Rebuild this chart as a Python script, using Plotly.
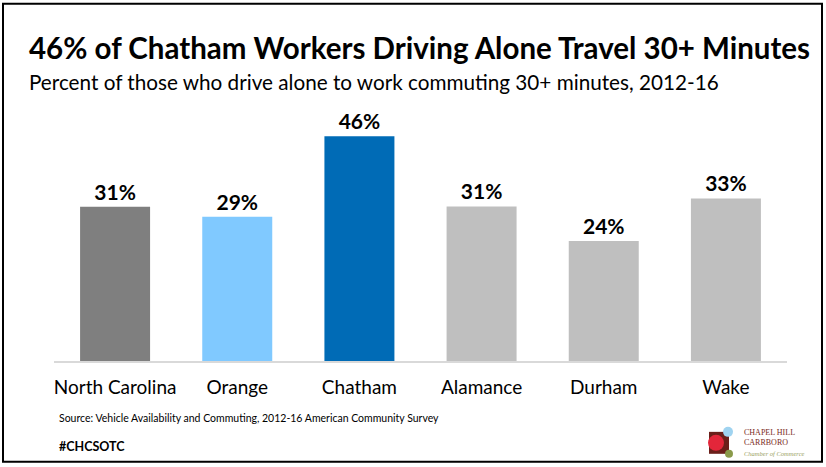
import plotly.graph_objects as go

categories = ["North Carolina", "Orange", "Chatham", "Alamance", "Durham", "Wake"]
values = [31.2, 29.2, 45.5, 31.3, 24.3, 32.9]
value_labels = ["31%", "29%", "46%", "31%", "24%", "33%"]
bar_colors = ["#7F7F7F", "#80C9FF", "#006BB6", "#BFBFBF", "#BFBFBF", "#BFBFBF"]

title_text = "46% of Chatham Workers Driving Alone Travel 30+ Minutes"
subtitle_text = "Percent of those who drive alone to work commuting 30+ minutes, 2012-16"
source_text = "Source: Vehicle Availability and Commuting, 2012-16 American Community Survey"
hashtag_text = "#CHCSOTC"
logo_lines = ["CHAPEL HILL", "CARRBORO", "Chamber of Commerce"]

W, H = 826, 467
L, R, T, B = 54, 787, 113.5, 361

def px(x):
    return (x - L) / (R - L)

def py(y):
    return (B - y) / (B - T)

FONT = "Lato"

fig = go.Figure()
fig.add_trace(go.Bar(
    x=categories, y=values, marker=dict(color=bar_colors, line=dict(width=0)),
    text=value_labels, textposition="outside", cliponaxis=False,
    textfont=dict(family=FONT, size=21, color="#000000", weight="bold"),
    hoverinfo="skip",
))

shapes = [
    dict(type="rect", xref="paper", yref="paper", x0=px(3), x1=px(822), y0=py(3), y1=py(462),
         line=dict(color="#000000", width=2), fillcolor="rgba(0,0,0,0)", layer="above"),
    # logo
    dict(type="rect", xref="paper", yref="paper", x0=px(709), x1=px(729), y0=py(432), y1=py(454),
         line=dict(width=0), fillcolor="#6B1F1A"),
    dict(type="circle", xref="paper", yref="paper", x0=px(723), x1=px(733), y0=py(427), y1=py(437),
         line=dict(width=0), fillcolor="#9FD3F0"),
    dict(type="circle", xref="paper", yref="paper", x0=px(708), x1=px(724), y0=py(435), y1=py(451),
         line=dict(width=0), fillcolor="#E3263A"),
    dict(type="circle", xref="paper", yref="paper", x0=px(725), x1=px(733), y0=py(450), y1=py(458),
         line=dict(width=0), fillcolor="#8A9A4A"),
]

logo_text = (logo_lines[0] + "<br>" + logo_lines[1] + "<br>"
             + "<span style='font-size:6.5px;color:#9AA060'><i>" + logo_lines[2] + "</i></span>")

annotations = [
    dict(text="<b>" + title_text + "</b>", x=px(27), y=py(47), xref="paper", yref="paper",
         xanchor="left", yanchor="middle", showarrow=False,
         font=dict(family=FONT, size=29.5, color="#000000")),
    dict(text=subtitle_text, x=px(27), y=py(81), xref="paper", yref="paper",
         xanchor="left", yanchor="middle", showarrow=False,
         font=dict(family=FONT, size=20.7, color="#000000")),
    dict(text=source_text, x=px(57), y=py(418), xref="paper", yref="paper",
         xanchor="left", yanchor="middle", showarrow=False,
         font=dict(family=FONT, size=10.5, color="#000000")),
    dict(text="<b>" + hashtag_text + "</b>", x=px(57), y=py(447), xref="paper", yref="paper",
         xanchor="left", yanchor="middle", showarrow=False,
         font=dict(family=FONT, size=12.5, color="#000000")),
    dict(text=logo_text, x=px(742), y=py(443), xref="paper", yref="paper",
         xanchor="left", yanchor="middle", align="left", showarrow=False,
         font=dict(family="Liberation Serif", size=8, color="#7A2A22")),
]

fig.update_layout(
    width=W, height=H,
    margin=dict(l=L, r=W - R, t=T, b=H - B, pad=0),
    paper_bgcolor="#FFFFFF", plot_bgcolor="#FFFFFF",
    showlegend=False, bargap=0.427,
    shapes=shapes, annotations=annotations,
    xaxis=dict(showline=True, linecolor="#D9D9D9", linewidth=1.5, ticks="",
               tickfont=dict(family=FONT, size=19, color="#000000"), showgrid=False,
               ticklabelstandoff=8, fixedrange=True),
    yaxis=dict(range=[0, 50], visible=False, showgrid=False, zeroline=False, fixedrange=True),
)

fig.write_html("out.html", config={"displayModeBar": False},
               post_script="document.body.style.margin='0';document.body.style.overflow='hidden';")
